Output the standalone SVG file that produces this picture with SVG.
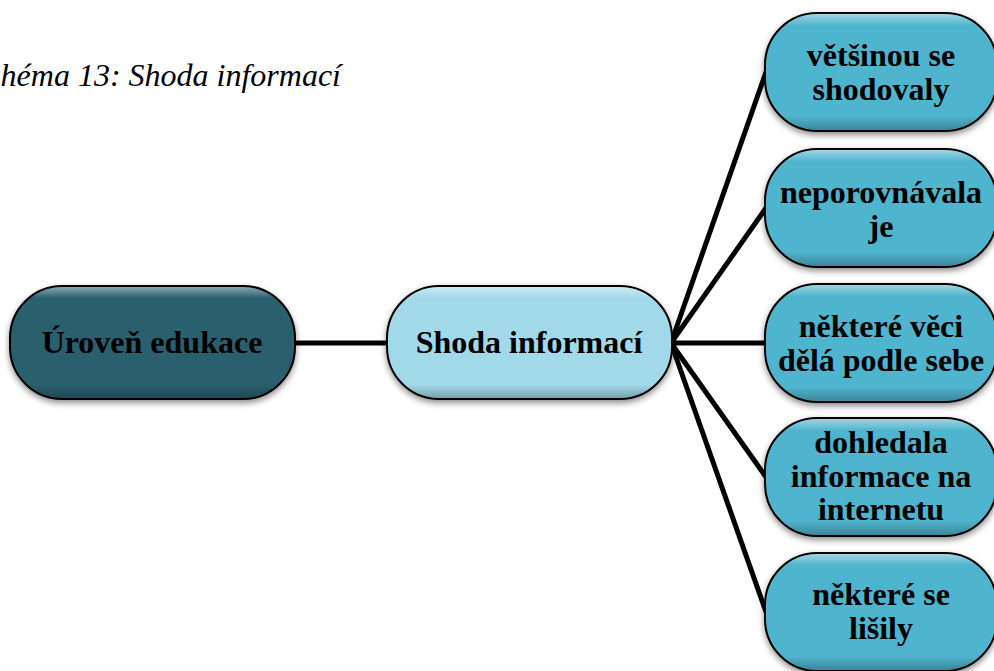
<svg xmlns="http://www.w3.org/2000/svg" width="994" height="671" viewBox="0 0 994 671">
  <style>
    .node { stroke: #000; stroke-width: 2; }
    .lbl { font-family: "Liberation Serif", "Times New Roman", serif; font-weight: bold; font-size: 32px; fill: #000; text-anchor: middle; }
    .title { font-family: "Liberation Serif", "Times New Roman", serif; font-style: italic; font-size: 32px; fill: #000; }
    .conn { stroke: #000; stroke-width: 5; fill: none; stroke-linecap: round; }
  </style>
  <defs>
    <filter id="shadow" x="-10%" y="-10%" width="120%" height="130%">
      <feDropShadow dx="0" dy="3" stdDeviation="3" flood-color="#000" flood-opacity="0.45"/>
    </filter>
    <linearGradient id="gloss" x1="0" y1="0" x2="0" y2="1">
      <stop offset="0" stop-color="#fff" stop-opacity="0.45"/>
      <stop offset="0.1" stop-color="#fff" stop-opacity="0"/>
      <stop offset="0.88" stop-color="#000" stop-opacity="0"/>
      <stop offset="1" stop-color="#000" stop-opacity="0.25"/>
    </linearGradient>
  </defs>

  <text class="title" x="341" y="86" text-anchor="end">héma 13: Shoda informací</text>

  <g id="connectors">
    <line class="conn" x1="295" y1="343" x2="387" y2="343"/>
    <line class="conn" x1="671" y1="343" x2="766" y2="72"/>
    <line class="conn" x1="671" y1="343" x2="766" y2="208"/>
    <line class="conn" x1="671" y1="343" x2="766" y2="343"/>
    <line class="conn" x1="671" y1="343" x2="766" y2="477"/>
    <line class="conn" x1="671" y1="343" x2="766" y2="612"/>
  </g>

  <g id="uroven-edukace">
    <rect class="node" x="10" y="286" width="285" height="113" rx="52" fill="#2a5e6e" filter="url(#shadow)"/>
    <rect x="11" y="287" width="283" height="111" rx="51" fill="url(#gloss)"/>
    <text class="lbl" x="152" y="353">Úroveň edukace</text>
  </g>

  <g id="shoda-informaci">
    <rect class="node" x="387" y="286" width="285" height="113" rx="52" fill="#a1d9e8" filter="url(#shadow)"/>
    <rect x="388" y="287" width="283" height="111" rx="51" fill="url(#gloss)"/>
    <text class="lbl" x="529" y="353">Shoda informací</text>
  </g>

  <g id="vetsinou-se-shodovaly">
    <rect class="node" x="765" y="13" width="232" height="118" rx="52" fill="#4fb4cd" filter="url(#shadow)"/>
    <rect x="766" y="14" width="230" height="116" rx="51" fill="url(#gloss)"/>
    <text class="lbl" x="881" y="66">většinou se</text>
    <text class="lbl" x="881" y="100">shodovaly</text>
  </g>

  <g id="neporovnavala-je">
    <rect class="node" x="765" y="149" width="232" height="118" rx="52" fill="#4fb4cd" filter="url(#shadow)"/>
    <rect x="766" y="150" width="230" height="116" rx="51" fill="url(#gloss)"/>
    <text class="lbl" x="881" y="203">neporovnávala</text>
    <text class="lbl" x="881" y="237">je</text>
  </g>

  <g id="nektere-veci">
    <rect class="node" x="765" y="284" width="232" height="118" rx="52" fill="#4fb4cd" filter="url(#shadow)"/>
    <rect x="766" y="285" width="230" height="116" rx="51" fill="url(#gloss)"/>
    <text class="lbl" x="881" y="337">některé věci</text>
    <text class="lbl" x="881" y="371">dělá podle sebe</text>
  </g>

  <g id="dohledala-informace">
    <rect class="node" x="765" y="418" width="232" height="118" rx="52" fill="#4fb4cd" filter="url(#shadow)"/>
    <rect x="766" y="419" width="230" height="116" rx="51" fill="url(#gloss)"/>
    <text class="lbl" x="881" y="453">dohledala</text>
    <text class="lbl" x="881" y="487">informace na</text>
    <text class="lbl" x="881" y="520">internetu</text>
  </g>

  <g id="nektere-se-lisily">
    <rect class="node" x="765" y="553" width="232" height="118" rx="52" fill="#4fb4cd" filter="url(#shadow)"/>
    <rect x="766" y="554" width="230" height="116" rx="51" fill="url(#gloss)"/>
    <text class="lbl" x="881" y="605">některé se</text>
    <text class="lbl" x="881" y="639">lišily</text>
  </g>
</svg>
